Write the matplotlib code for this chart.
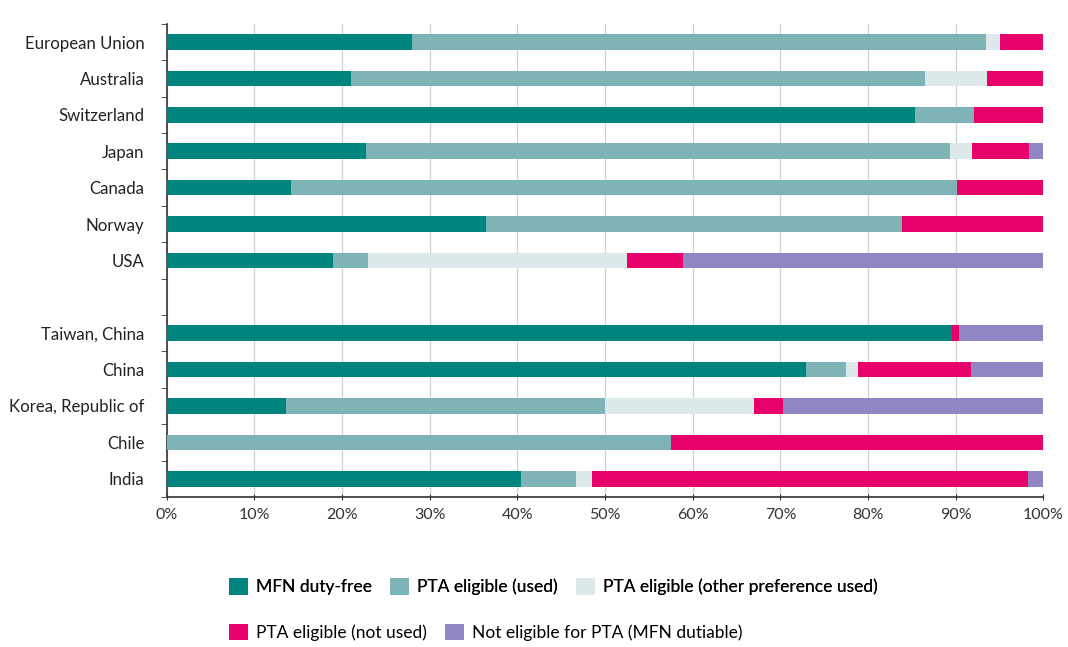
import matplotlib
matplotlib.use("Agg")
import matplotlib.pyplot as plt
import numpy as np
from matplotlib.patches import Patch

countries = ["European Union", "Australia", "Switzerland", "Japan", "Canada", "Norway", "USA",
             "Taiwan, China", "China", "Korea, Republic of", "Chile", "India"]
mfn_free = [28.0, 21.0, 85.4, 22.7, 14.2, 36.4, 19.0, 89.6, 72.9, 13.6, 0.0, 40.4]
pta_used = [65.4, 65.5, 6.7, 66.7, 75.9, 47.5, 4.0, 0.0, 4.6, 36.4, 57.5, 6.3]
pta_other = [1.7, 7.1, 0.0, 2.5, 0.0, 0.0, 29.5, 0.0, 1.3, 17.0, 0.0, 1.8]
pta_not_used = [4.9, 6.4, 7.9, 6.4, 9.9, 16.1, 6.4, 0.8, 12.9, 3.3, 42.5, 49.7]
not_eligible = [0.0, 0.0, 0.0, 1.7, 0.0, 0.0, 41.1, 9.6, 8.3, 29.7, 0.0, 1.8]

series_labels = ["MFN duty-free", "PTA eligible (used)", "PTA eligible (other preference used)",
                 "PTA eligible (not used)", "Not eligible for PTA (MFN dutiable)"]
colors = ["#00847f", "#7fb4b7", "#dde9eb", "#e8006b", "#9285c3"]
x_ticks = [0, 10, 20, 30, 40, 50, 60, 70, 80, 90, 100]
gap_after = 7  # blank row after the first 7 economies

plt.rcParams['font.family'] = ['Lato', 'DejaVu Sans']

fig = plt.figure(figsize=(10.68, 6.47), dpi=100)
ax = fig.add_axes([0.156, 0.232, 0.821, 0.731])

n_rows = len(countries) + 1
ypos = np.array([i if i < gap_after else i + 1 for i in range(len(countries))], dtype=float)

series = [mfn_free, pta_used, pta_other, pta_not_used, not_eligible]
left = np.zeros(len(countries))
for vals, col in zip(series, colors):
    v = np.array(vals)
    ax.barh(ypos, v, left=left, height=0.43, color=col, edgecolor='none', zorder=3)
    left += v

ax.set_xlim(0, 100)
ax.set_ylim(n_rows - 0.5, -0.5)
ax.set_xticks(x_ticks)
ax.set_xticklabels([f"{t}%" for t in x_ticks], fontsize=11.5, color="#333333")
ax.set_yticks(ypos)
ax.set_yticklabels(countries, fontsize=12.1, color="#222222")
ax.set_yticks(np.arange(n_rows + 1) - 0.5, minor=True)
ax.tick_params(axis='y', which='major', length=0, pad=16)
ax.tick_params(axis='y', which='minor', length=4, direction='out', color='#333333')
ax.tick_params(axis='x', which='major', length=4, direction='inout', color='#333333', pad=6)

ax.grid(axis='x', color='#d0d0d0', linewidth=0.9, zorder=0)
for s in ['top', 'right']:
    ax.spines[s].set_visible(False)
for s in ['left', 'bottom']:
    ax.spines[s].set_color('#333333')
    ax.spines[s].set_linewidth(1.2)

handles = [Patch(facecolor=c, edgecolor='none') for c in colors]
leg1 = fig.legend(handles[:3], series_labels[:3], ncol=3, loc='center left',
                  bbox_to_anchor=(0.2, 0.093), frameon=False, fontsize=12.5,
                  handlelength=1.1, handleheight=1.1, handletextpad=0.45, columnspacing=1.05)
leg2 = fig.legend(handles[3:], series_labels[3:], ncol=2, loc='center left',
                  bbox_to_anchor=(0.2, 0.023), frameon=False, fontsize=12.5,
                  handlelength=1.1, handleheight=1.1, handletextpad=0.45, columnspacing=1.05)
fig.add_artist(leg1)

fig.savefig("out.png", dpi=100)
